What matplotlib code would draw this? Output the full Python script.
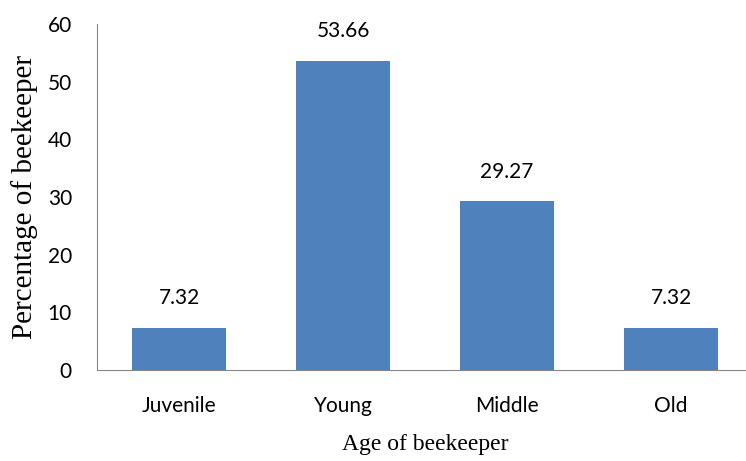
'''Age distribution of beekeepers as a bar chart.'''
# pylint: disable=invalid-name
import matplotlib.pyplot as plt

CATEGORIES = ['Juvenile', 'Young', 'Middle', 'Old']
PERCENTAGES = [7.32, 53.66, 29.27, 7.32]
Y_TICKS = [0, 10, 20, 30, 40, 50, 60]

BAR_COLOR = '#4F81BD'
SPINE_COLOR = '#868686'
TICK_FONT = 'Lato'
LABEL_FONT = 'Liberation Serif'


def main():
    '''Main.'''
    fig = plt.figure(figsize=(7.46, 4.61), dpi=100)
    ax = fig.add_axes([97 / 746, 91 / 461, 656 / 746, 346 / 461])

    x = range(len(CATEGORIES))
    bars = ax.bar(x, PERCENTAGES, width=0.573, color=BAR_COLOR)

    # value labels above the bars
    for rect, val in zip(bars, PERCENTAGES):
        ax.annotate(f'{val:.2f}',
                    (rect.get_x() + rect.get_width() / 2, rect.get_height()),
                    xytext=(0, 14), textcoords='offset points',
                    ha='center', va='bottom',
                    fontsize=15, family=TICK_FONT)

    ax.set_xlim(-0.5, len(CATEGORIES) - 0.5)
    ax.set_ylim(0, 60)
    ax.set_yticks(Y_TICKS)
    ax.set_xticks(list(x))
    ax.set_xticklabels(CATEGORIES)

    for lab in ax.get_xticklabels() + ax.get_yticklabels():
        lab.set_family(TICK_FONT)
        lab.set_fontsize(15)

    ax.tick_params(axis='y', length=0, pad=18)
    ax.tick_params(axis='x', length=0, pad=19)

    # set style for spines
    ax.spines['right'].set_color('none')
    ax.spines['top'].set_color('none')
    ax.spines['left'].set_color(SPINE_COLOR)
    ax.spines['bottom'].set_color(SPINE_COLOR)

    ax.set_xlabel('Age of beekeeper', family=LABEL_FONT, fontsize=17,
                  labelpad=13)
    ax.set_ylabel('Percentage of beekeeper', family=LABEL_FONT, fontsize=21,
                  labelpad=7)

    fig.savefig('out.png', dpi=100)


if __name__ == "__main__":
    main()
